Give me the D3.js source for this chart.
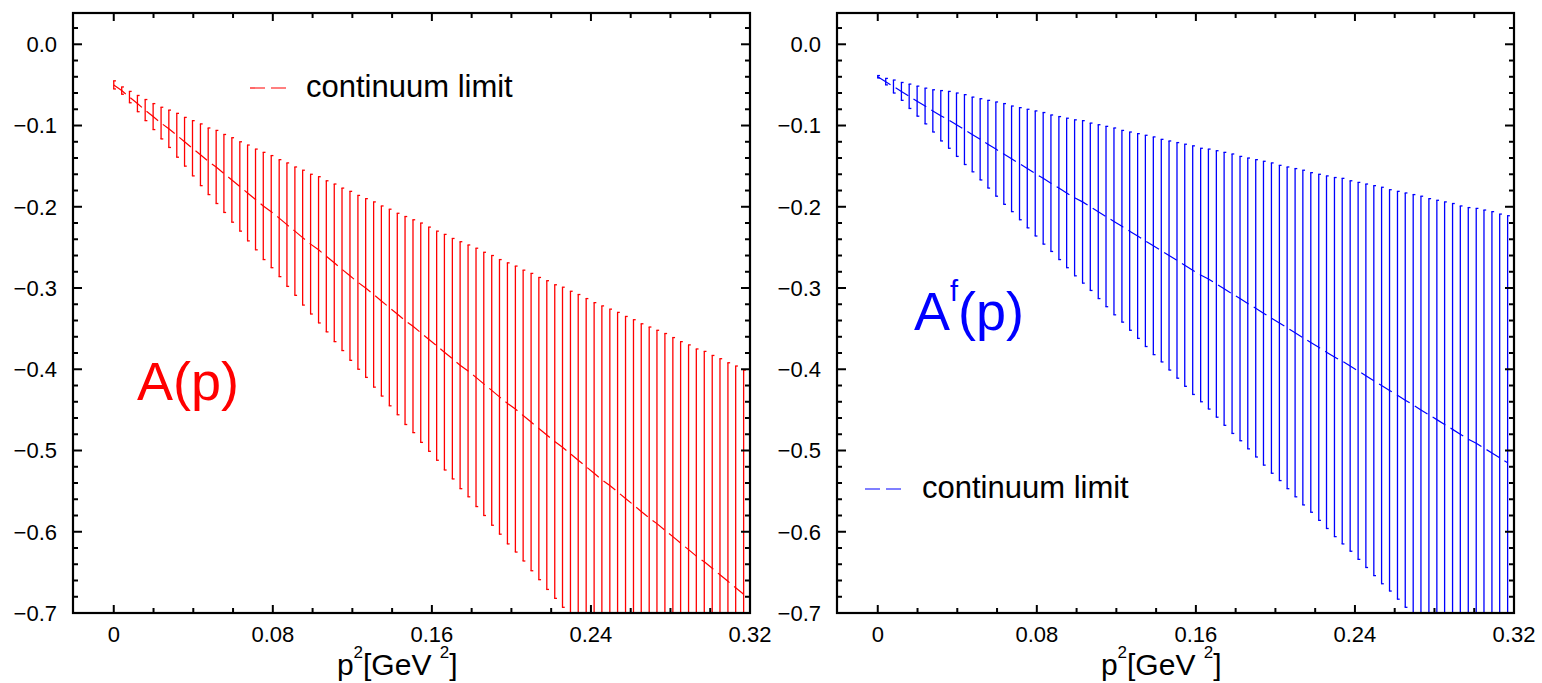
<!DOCTYPE html>
<html>
<head>
<meta charset="utf-8">
<script src="https://cdn.jsdelivr.net/npm/d3@7"></script>
<style>
  html, body { margin: 0; padding: 0; background: #fff; }
  svg { display: block; }
  text { font-family: "Liberation Sans", Arial, Helvetica, sans-serif; }
</style>
</head>
<body>
<svg id="fig" width="1542" height="683"></svg>
<script>
// momentum grid p^2 [GeV^2]
const p2 = [0, 0.0040, 0.0079, 0.0119, 0.0158, 0.0198, 0.0238, 0.0277, 0.0317, 0.0356,
  0.0396, 0.0436, 0.0475, 0.0515, 0.0554, 0.0594, 0.0634, 0.0673, 0.0713, 0.0752,
  0.0792, 0.0832, 0.0871, 0.0911, 0.0950, 0.0990, 0.1030, 0.1069, 0.1109, 0.1148,
  0.1188, 0.1228, 0.1267, 0.1307, 0.1346, 0.1386, 0.1426, 0.1465, 0.1505, 0.1544,
  0.1584, 0.1624, 0.1663, 0.1703, 0.1742, 0.1782, 0.1822, 0.1861, 0.1901, 0.1940,
  0.1980, 0.2020, 0.2059, 0.2099, 0.2138, 0.2178, 0.2218, 0.2257, 0.2297, 0.2336,
  0.2376, 0.2416, 0.2455, 0.2495, 0.2534, 0.2574, 0.2614, 0.2653, 0.2693, 0.2732,
  0.2772, 0.2812, 0.2851, 0.2891, 0.2930, 0.2970, 0.3010, 0.3049, 0.3089, 0.3128, 0.3168];

// A(p): continuum-limit central values and errors
const aCentral = [-0.050, -0.057, -0.065, -0.073, -0.081, -0.089, -0.097, -0.104, -0.112, -0.120,
  -0.128, -0.136, -0.144, -0.151, -0.159, -0.167, -0.175, -0.183, -0.191, -0.199,
  -0.206, -0.214, -0.222, -0.230, -0.238, -0.246, -0.253, -0.261, -0.269, -0.277,
  -0.285, -0.293, -0.300, -0.308, -0.316, -0.324, -0.332, -0.340, -0.347, -0.355,
  -0.363, -0.371, -0.379, -0.387, -0.395, -0.402, -0.410, -0.418, -0.426, -0.434,
  -0.442, -0.449, -0.457, -0.465, -0.473, -0.481, -0.489, -0.496, -0.504, -0.512,
  -0.520, -0.528, -0.536, -0.543, -0.551, -0.559, -0.567, -0.575, -0.583, -0.590,
  -0.598, -0.606, -0.614, -0.622, -0.630, -0.637, -0.645, -0.653, -0.661, -0.669, -0.677];
const aError = [0.005, 0.0045, 0.007, 0.010, 0.013, 0.016, 0.0195, 0.023, 0.027, 0.030,
  0.034, 0.038, 0.041, 0.045, 0.048, 0.052, 0.055, 0.059, 0.062, 0.066,
  0.069, 0.072, 0.076, 0.079, 0.083, 0.086, 0.090, 0.093, 0.097, 0.100,
  0.104, 0.107, 0.110, 0.114, 0.117, 0.121, 0.124, 0.128, 0.131, 0.135,
  0.138, 0.141, 0.145, 0.148, 0.152, 0.155, 0.159, 0.162, 0.166, 0.169,
  0.173, 0.176, 0.179, 0.183, 0.186, 0.190, 0.193, 0.197, 0.200, 0.204,
  0.207, 0.210, 0.214, 0.217, 0.221, 0.224, 0.228, 0.231, 0.235, 0.238,
  0.242, 0.245, 0.248, 0.252, 0.255, 0.259, 0.262, 0.266, 0.269, 0.273, 0.276];

// A^f(p): continuum-limit central values and errors
const afCentral = [-0.040, -0.046, -0.052, -0.058, -0.064, -0.070, -0.076, -0.082, -0.088, -0.093,
  -0.099, -0.105, -0.111, -0.117, -0.123, -0.129, -0.135, -0.141, -0.147, -0.153,
  -0.159, -0.165, -0.171, -0.177, -0.183, -0.189, -0.194, -0.200, -0.206, -0.212,
  -0.218, -0.224, -0.230, -0.236, -0.242, -0.248, -0.254, -0.260, -0.266, -0.272,
  -0.278, -0.284, -0.289, -0.295, -0.301, -0.307, -0.313, -0.319, -0.325, -0.331,
  -0.337, -0.343, -0.349, -0.355, -0.361, -0.367, -0.373, -0.379, -0.385, -0.390,
  -0.396, -0.402, -0.408, -0.414, -0.420, -0.426, -0.432, -0.438, -0.444, -0.450,
  -0.456, -0.462, -0.468, -0.474, -0.480, -0.486, -0.491, -0.497, -0.503, -0.509, -0.515];
const afError = [0.0015, 0.004, 0.008, 0.011, 0.015, 0.0185, 0.022, 0.026, 0.031, 0.035,
  0.039, 0.043, 0.046, 0.050, 0.054, 0.058, 0.062, 0.065, 0.069, 0.073,
  0.077, 0.081, 0.084, 0.088, 0.092, 0.096, 0.100, 0.103, 0.107, 0.111,
  0.115, 0.118, 0.122, 0.126, 0.130, 0.134, 0.137, 0.141, 0.145, 0.149,
  0.153, 0.156, 0.160, 0.164, 0.168, 0.172, 0.175, 0.179, 0.183, 0.187,
  0.191, 0.194, 0.198, 0.202, 0.206, 0.209, 0.213, 0.217, 0.221, 0.225,
  0.228, 0.232, 0.236, 0.240, 0.244, 0.247, 0.251, 0.255, 0.259, 0.263,
  0.266, 0.270, 0.274, 0.278, 0.281, 0.285, 0.289, 0.293, 0.297, 0.300, 0.304];

// axis ticks
const xMajor = [0, 0.08, 0.16, 0.24, 0.32];
const xMajorLabels = ["0", "0.08", "0.16", "0.24", "0.32"];
const xMinor = [0.02, 0.04, 0.06, 0.10, 0.12, 0.14, 0.18, 0.20, 0.22, 0.26, 0.28, 0.30];
const yMajor = [0, -0.1, -0.2, -0.3, -0.4, -0.5, -0.6, -0.7];
const yMajorLabels = ["0.0", "\u22120.1", "\u22120.2", "\u22120.3", "\u22120.4", "\u22120.5", "\u22120.6", "\u22120.7"];
const yMinor = [0.02, -0.02, -0.04, -0.06, -0.08, -0.12, -0.14, -0.16, -0.18, -0.22, -0.24, -0.26, -0.28,
  -0.32, -0.34, -0.36, -0.38, -0.42, -0.44, -0.46, -0.48, -0.52, -0.54, -0.56, -0.58,
  -0.62, -0.64, -0.66, -0.68];

const svg = d3.select("#fig");
const plotTop = 13, plotBottom = 613;

function panel(opts) {
  const { left, right, central, error, color, id } = opts;
  const x = d3.scaleLinear().domain([-0.0205, 0.32]).range([left, right]);
  const y = d3.scaleLinear().domain([-0.7, 0.0385]).range([plotBottom, plotTop]);
  const g = svg.append("g");

  g.append("clipPath").attr("id", id)
    .append("rect").attr("x", left).attr("y", plotTop)
    .attr("width", right - left).attr("height", plotBottom - plotTop);

  const rows = p2.map((v, i) => ({ x: v, c: central[i], e: error[i] }));
  const plot = g.append("g").attr("clip-path", `url(#${id})`);

  // error bars with short caps
  const bars = plot.append("g").attr("stroke", color).attr("stroke-width", 1.3).attr("fill", "none");
  bars.selectAll("line.bar").data(rows).join("line").attr("class", "bar")
    .attr("x1", d => x(d.x)).attr("x2", d => x(d.x))
    .attr("y1", d => y(d.c + d.e)).attr("y2", d => y(d.c - d.e));
  bars.selectAll("line.capt").data(rows).join("line").attr("class", "capt")
    .attr("x1", d => x(d.x) - 0.6).attr("x2", d => x(d.x) + 2.2)
    .attr("y1", d => y(d.c + d.e)).attr("y2", d => y(d.c + d.e));
  bars.selectAll("line.capb").data(rows).join("line").attr("class", "capb")
    .attr("x1", d => x(d.x) - 0.6).attr("x2", d => x(d.x) + 2.2)
    .attr("y1", d => y(d.c - d.e)).attr("y2", d => y(d.c - d.e));

  // dashed continuum-limit line
  plot.append("path").datum(rows)
    .attr("fill", "none").attr("stroke", color).attr("stroke-width", 1.2)
    .attr("stroke-dasharray", "15,6")
    .attr("d", d3.line().x(d => x(d.x)).y(d => y(d.c)));

  // frame
  const axes = g.append("g").attr("stroke", "#000");
  axes.append("rect").attr("x", left).attr("y", plotTop)
    .attr("width", right - left).attr("height", plotBottom - plotTop)
    .attr("fill", "none").attr("stroke-width", 2.2);

  // inward ticks on all four sides
  const tk = (vals, len, horiz) => {
    vals.forEach(v => {
      if (horiz) {
        const px = x(v);
        axes.append("line").attr("x1", px).attr("x2", px).attr("y1", plotBottom).attr("y2", plotBottom - len).attr("stroke-width", 2);
        axes.append("line").attr("x1", px).attr("x2", px).attr("y1", plotTop).attr("y2", plotTop + len).attr("stroke-width", 2);
      } else {
        const py = y(v);
        axes.append("line").attr("x1", left).attr("x2", left + len).attr("y1", py).attr("y2", py).attr("stroke-width", 2);
        axes.append("line").attr("x1", right).attr("x2", right - len).attr("y1", py).attr("y2", py).attr("stroke-width", 2);
      }
    });
  };
  tk(xMajor, 8, true); tk(xMinor, 5, true);
  tk(yMajor, 9, false); tk(yMinor, 5, false);

  // tick labels
  g.selectAll("text.xl").data(xMajor).join("text").attr("class", "xl")
    .attr("x", d => x(d)).attr("y", 642).attr("text-anchor", "middle")
    .attr("font-size", 22).text((d, i) => xMajorLabels[i]);
  g.selectAll("text.yl").data(yMajor).join("text").attr("class", "yl")
    .attr("x", left - 16).attr("y", d => y(d) + 7.8).attr("text-anchor", "end")
    .attr("font-size", 22).text((d, i) => yMajorLabels[i]);

  // axis title p^2 [GeV^2]
  const t = g.append("text").attr("x", x(0.16) - 95).attr("y", 675).attr("font-size", 30);
  t.append("tspan").text("p");
  t.append("tspan").attr("dy", -17).attr("font-size", 17).text("2");
  t.append("tspan").attr("dy", 17).text("[GeV ");
  t.append("tspan").attr("dy", -17).attr("font-size", 17).text("2");
  t.append("tspan").attr("dy", 17).text("]");

  return { x, y, g };
}

// left panel: A(p)
const L = panel({ left: 73, right: 750, central: aCentral, error: aError, color: "#ff0000", id: "clipA" });
L.g.append("line").attr("x1", 250).attr("x2", 287).attr("y1", 88).attr("y2", 88)
  .attr("stroke", "#ff0000").attr("stroke-width", 1.2).attr("stroke-dasharray", "15,6");
L.g.append("text").attr("x", 306).attr("y", 97).attr("font-size", 31).text("continuum limit");
L.g.append("text").attr("x", 137).attr("y", 400).attr("font-size", 54).attr("fill", "#ff0000").text("A(p)");

// right panel: A^f(p)
const R = panel({ left: 837, right: 1514, central: afCentral, error: afError, color: "#0000ff", id: "clipAf" });
R.g.append("line").attr("x1", 865).attr("x2", 902).attr("y1", 489).attr("y2", 489)
  .attr("stroke", "#0000ff").attr("stroke-width", 1.2).attr("stroke-dasharray", "15,6");
R.g.append("text").attr("x", 922).attr("y", 498).attr("font-size", 31).text("continuum limit");
const af = R.g.append("text").attr("x", 914).attr("y", 330).attr("font-size", 54).attr("fill", "#0000ff");
af.append("tspan").text("A");
af.append("tspan").attr("dy", -29).attr("font-size", 29).text("f");
af.append("tspan").attr("dy", 29).text("(p)");
</script>
</body>
</html>
